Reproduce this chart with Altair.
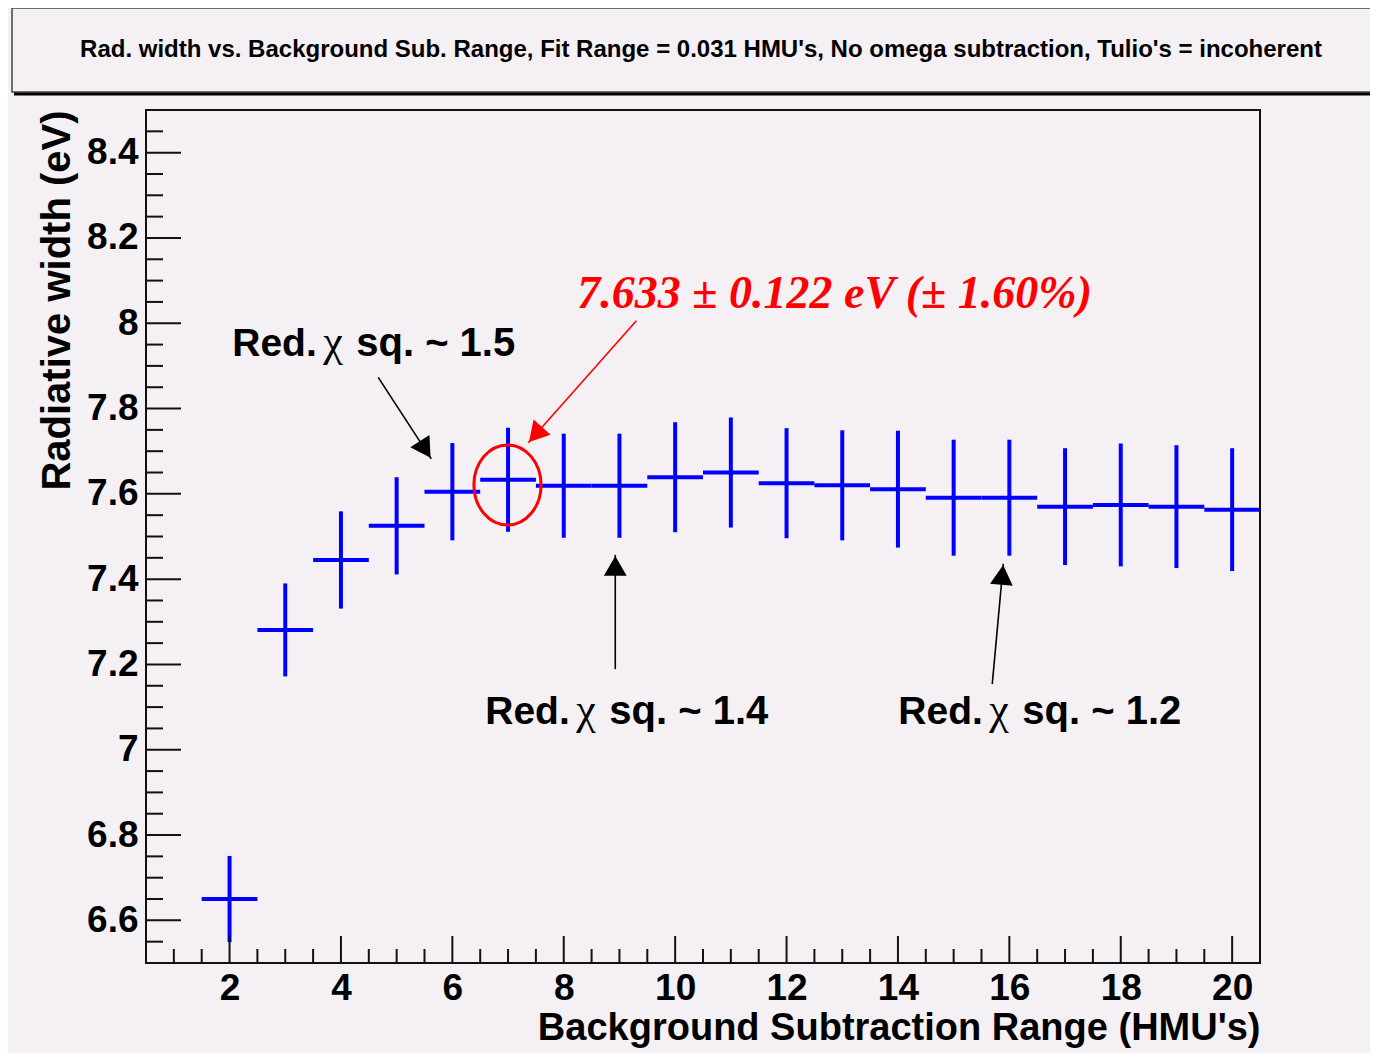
import altair as alt
import pandas as pd

# ---- data ----
x_vals = [2, 3, 4, 5, 6, 7, 8, 9, 10, 11, 12, 13, 14, 15, 16, 17, 18, 19, 20]
y_vals = [6.650, 7.281, 7.445, 7.525, 7.605, 7.633, 7.619, 7.619, 7.639, 7.650,
          7.625, 7.620, 7.611, 7.591, 7.591, 7.570, 7.574, 7.570, 7.563]
y_errs = [0.101, 0.109, 0.114, 0.114, 0.114, 0.122, 0.122, 0.122, 0.129, 0.129,
          0.129, 0.129, 0.137, 0.136, 0.136, 0.137, 0.144, 0.144, 0.144]
x_half = 0.5  # half bin width

x_major = [2, 4, 6, 8, 10, 12, 14, 16, 18, 20]
y_major = [6.6, 6.8, 7.0, 7.2, 7.4, 7.6, 7.8, 8.0, 8.2, 8.4]
x_minor = [v / 2 for v in range(2, 41) if v % 4 != 0]
y_minor = [round(6.55 + 0.05 * i, 2) for i in range(39)]
y_minor = [v for v in y_minor if all(abs(v - m) > 1e-6 for m in y_major)]

title_text = ("Rad. width vs. Background Sub. Range, Fit Range = 0.031 HMU's, "
              "No omega subtraction, Tulio's = incoherent")

# annotation labels "Red. chi sq. ~ N"
lab_x = [2.048, 6.591, 14.006]
lab_y = [7.924, 7.060, 7.060]
lab_val = ["1.5", "1.4", "1.2"]

# arrows: start -> tip (data coords), head centre and angle
arr_x1 = [4.669, 8.925, 15.693, 9.304]
arr_y1 = [7.873, 7.189, 7.154, 8.006]
arr_x2 = [5.621, 8.925, 15.891, 7.363]
arr_y2 = [7.682, 7.457, 7.436, 7.720]
head_x = [5.513, 8.925, 15.873, 7.494]
head_y = [7.704, 7.431, 7.410, 7.739]
head_a = [147.3, 0.0, 5.2, 221.5]
arr_col = ["#000000", "#000000", "#000000", "#ff0000"]

result_text = "7.633 \u00b1 0.122 eV (\u00b1 1.60%)"
result_x, result_y = 8.243, 8.035
circle_x, circle_y = 6.99, 7.621

W, H = 1114, 853
BG = "#f4f0f4"
FONT = "Liberation Sans"

xs = alt.Scale(domain=[0.5, 20.5], nice=False, zero=False)
ys = alt.Scale(domain=[6.5, 8.5], nice=False, zero=False)

df = pd.DataFrame({"x": x_vals, "y": y_vals, "e": y_errs})
df["xlo"] = df["x"] - x_half
df["xhi"] = df["x"] + x_half
df["ylo"] = df["y"] - df["e"]
df["yhi"] = df["y"] + df["e"]

XT = "Background Subtraction Range (HMU's)"
YT = "Radiative width (eV)"


def X(field):
    return alt.X(field, scale=xs, title=XT)


def Y(field):
    return alt.Y(field, scale=ys, title=YT)


base = alt.Chart(df)

hbar = base.mark_rule(color="#0000ff", strokeWidth=4).encode(
    x=alt.X("xlo:Q", scale=xs, title=XT, axis=alt.Axis(
        values=x_major, format="~g", labelFontSize=37, labelPadding=7,
        titleAnchor="end", titlePadding=3, titleFontSize=38)),
    x2="xhi:Q",
    y=alt.Y("y:Q", scale=ys, title=YT, axis=alt.Axis(
        values=y_major, format="~g", labelFontSize=37, labelPadding=8,
        titleAnchor="end", titlePadding=9, titleFontSize=40)),
)
vbar = base.mark_rule(color="#0000ff", strokeWidth=4).encode(
    x=X("x:Q"), y=Y("ylo:Q"), y2="yhi:Q",
)

# ticks drawn inside the frame
ymaj = alt.Chart(pd.DataFrame({"v": y_major})).mark_rule(color="#111", strokeWidth=2).encode(
    y=Y("v:Q"), x=alt.value(0), x2=alt.value(35))
ymin = alt.Chart(pd.DataFrame({"v": y_minor})).mark_rule(color="#111", strokeWidth=2).encode(
    y=Y("v:Q"), x=alt.value(0), x2=alt.value(17))
xmaj = alt.Chart(pd.DataFrame({"v": x_major})).mark_rule(color="#111", strokeWidth=2).encode(
    x=X("v:Q"), y=alt.value(H), y2=alt.value(H - 27))
xmin = alt.Chart(pd.DataFrame({"v": x_minor})).mark_rule(color="#111", strokeWidth=2).encode(
    x=X("v:Q"), y=alt.value(H), y2=alt.value(H - 14))

# title box
tbox = alt.Chart(pd.DataFrame({"t": [title_text]})).mark_rect(
    fill=BG, stroke="#444", strokeWidth=1.5).encode(
    x=alt.value(-134), x2=alt.value(1250), y=alt.value(-102), y2=alt.value(-18))
tshadow = alt.Chart(pd.DataFrame({"t": [title_text]})).mark_rule(
    color="#000", strokeWidth=3).encode(
    x=alt.value(-132), x2=alt.value(1250), y=alt.value(-16))
ttext = alt.Chart(pd.DataFrame({"t": [title_text]})).mark_text(
    font=FONT, fontSize=24, fontWeight="bold", color="#000",
    align="center", baseline="middle").encode(
    text="t:N", x=alt.value(555), y=alt.value(-60))

# annotations
ldf = pd.DataFrame({"x": lab_x, "y": lab_y,
                    "a": ["Red."] * 3, "b": ["\u03c7"] * 3,
                    "c": ["sq. ~ " + v for v in lab_val]})
la = alt.Chart(ldf).mark_text(font=FONT, fontSize=39, fontWeight="bold", color="#000",
                              align="left", baseline="alphabetic").encode(
    x=X("x:Q"), y=Y("y:Q"), text="a:N")
lb = alt.Chart(ldf).mark_text(font="Liberation Serif", fontSize=44, color="#000",
                              align="left", baseline="alphabetic", dx=91).encode(
    x=X("x:Q"), y=Y("y:Q"), text="b:N")
lc = alt.Chart(ldf).mark_text(font=FONT, fontSize=40, fontWeight="bold", color="#000",
                              align="left", baseline="alphabetic", dx=124).encode(
    x=X("x:Q"), y=Y("y:Q"), text="c:N")

adf = pd.DataFrame({"x1": arr_x1, "y1": arr_y1, "x2": arr_x2, "y2": arr_y2,
                    "hx": head_x, "hy": head_y, "ha": head_a, "col": arr_col})
alines = alt.Chart(adf).mark_rule(strokeWidth=1.6).encode(
    x=X("x1:Q"), y=Y("y1:Q"),
    x2="x2:Q", y2="y2:Q", color=alt.Color("col:N", scale=None))
aheads = alt.Chart(adf).mark_point(shape="triangle-up", filled=True, size=520, opacity=1).encode(
    x=X("hx:Q"), y=Y("hy:Q"),
    angle=alt.Angle("ha:Q", scale=None), color=alt.Color("col:N", scale=None))

rtext = alt.Chart(pd.DataFrame({"x": [result_x], "y": [result_y], "t": [result_text]})).mark_text(
    font="Liberation Serif", fontSize=46, fontWeight="bold", fontStyle="italic",
    color="#ff0000", align="left", baseline="alphabetic").encode(
    x=X("x:Q"), y=Y("y:Q"), text="t:N")

circ = alt.Chart(pd.DataFrame({"x": [circle_x], "y": [circle_y]})).mark_point(
    shape="M-0.84,0A0.84,1,0,1,1,0.84,0A0.84,1,0,1,1,-0.84,0Z",
    filled=False, stroke="#ff0000", strokeWidth=3, size=6400, opacity=1).encode(
    x=X("x:Q"), y=Y("y:Q"))

chart = alt.layer(
    hbar, vbar, ymaj, ymin, xmaj, xmin, tbox, tshadow, ttext,
    la, lb, lc, alines, aheads, rtext, circ
).properties(
    width=W, height=H,
    padding={"left": 138, "top": 102, "right": 110, "bottom": 90},
    autosize=alt.AutoSizeParams(type="none"),
    background=BG,
).configure_view(stroke="#111", strokeWidth=2, fill=BG).configure_axis(
    ticks=False, domain=False, grid=False,
    labelFont=FONT, labelFontWeight="bold", labelColor="#000",
    titleFont=FONT, titleFontWeight="bold", titleColor="#000",
)

chart.save("out.html", embed_options={"renderer": "svg", "actions": False})
